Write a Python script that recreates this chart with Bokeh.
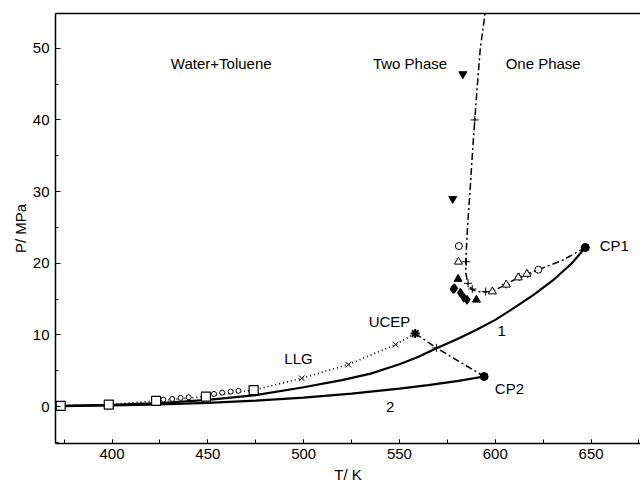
from bokeh.plotting import figure
from bokeh.models import SingleIntervalTicker, FixedTicker, LinearAxis, Range1d
from bokeh.core.properties import value
from bokeh.embed import file_html
from bokeh.resources import INLINE

FONT = "Liberation Sans"

# ---- data ----
water_T = [373.2, 400, 425, 450, 475, 500, 520, 535, 550, 560, 569, 580, 590, 600,
           610, 620, 630, 640, 647.0]
water_P = [0.10, 0.25, 0.50, 0.95, 1.60, 2.70, 3.70, 4.60, 5.90, 6.95, 8.10, 9.40, 10.7, 12.1,
           13.8, 15.6, 17.6, 20.0, 22.2]

tol_T = [373.2, 400, 425, 450, 475, 500, 525, 550, 565, 580, 594.2]
tol_P = [0.07, 0.16, 0.30, 0.52, 0.82, 1.25, 1.80, 2.50, 3.00, 3.55, 4.20]

llg_T = [373.2, 398.3, 423.0, 449.0, 473.9, 499.0, 523.3, 548.0, 558.2]
llg_P = [0.10, 0.28, 0.80, 1.40, 2.30, 3.95, 5.86, 8.65, 10.2]

sq_T = [373.2, 398.3, 423.0, 449.0, 473.9]
sq_P = [0.10, 0.28, 0.80, 1.40, 2.30]

x_T = [499.0, 523.3, 548.0]
x_P = [3.95, 5.86, 8.65]

small_T = [426.8, 431.4, 435.8, 440.0, 453.2, 457.5, 461.9, 466.0]
small_P = [0.98, 1.07, 1.21, 1.30, 1.77, 1.95, 2.09, 2.20]

ucep_T = [558.2]
ucep_P = [10.2]

tp_T = [558.2, 569.3, 594.2]
tp_P = [10.2, 8.2, 4.2]

cp_T = [647.0, 594.2]
cp_P = [22.2, 4.2]

crit_T = [647.0, 635.0, 622.5, 612.5, 605.5, 598.5, 593.0, 588.0, 585.6, 584.7,
          584.6, 585.5, 586.8, 588.0, 589.3, 590.7, 592.2, 595.0]
crit_P = [22.2, 20.4, 19.1, 18.1, 17.0, 16.1, 15.95, 16.3, 17.2, 18.6,
          20.2, 25.0, 30.0, 35.0, 40.0, 45.0, 50.0, 55.5]

plus_T = [589.3, 584.8, 585.8, 588.0, 595.0, 605.5, 612.5, 617.0, 569.3]
plus_P = [40.0, 20.2, 17.2, 16.4, 16.05, 17.05, 18.1, 18.5, 8.2]

otri_T = [580.8, 598.5, 605.8, 612.0, 616.5]
otri_P = [20.2, 16.05, 17.0, 18.0, 18.5]

ocirc_T = [581.0, 622.5]
ocirc_P = [22.4, 19.1]

ftri_T = [580.6, 590.2]
ftri_P = [17.8, 14.9]

fdia_T = [578.0, 578.8, 581.8, 583.6, 585.3]
fdia_P = [16.4, 16.5, 15.9, 15.2, 14.9]

fdown_T = [583.1, 577.8]
fdown_P = [46.4, 29.0]

lbl_text = ["Water+Toluene", "Two Phase", "One Phase", "UCEP", "LLG", "1", "2"]
lbl_T = [457.0, 555.5, 625.0, 544.8, 497.3, 603.4, 545.2]
lbl_P = [47.9, 47.9, 47.9, 11.9, 6.7, 10.5, 0.0]

lbl2_text = ["CP1", "CP2"]
lbl2_T = [654.5, 599.8]
lbl2_P = [22.5, 2.5]

# ---- figure ----
p = figure(width=640, height=485, output_backend="svg", toolbar_location=None,
           x_range=Range1d(370.5, 675.8), y_range=Range1d(-5.15, 54.85),
           min_border_left=55, min_border_right=0, min_border_top=13, min_border_bottom=42,
           x_axis_label="T/ K", y_axis_label="P/ MPa")
p.grid.visible = False
p.outline_line_color = None
p.background_fill_color = "white"
p.border_fill_color = "white"

p.xaxis.ticker = SingleIntervalTicker(interval=50, num_minor_ticks=2)
p.yaxis.ticker = SingleIntervalTicker(interval=10, num_minor_ticks=2)
for ax in (p.xaxis[0], p.yaxis[0]):
    ax.axis_line_width = 1.5
    ax.axis_line_color = "black"
    ax.major_tick_in = 5
    ax.major_tick_out = 0
    ax.minor_tick_in = 3
    ax.minor_tick_out = 0
    ax.major_tick_line_color = "black"
    ax.minor_tick_line_color = "black"
    ax.major_label_text_font = FONT
    ax.major_label_text_font_size = "15px"
    ax.major_label_text_color = "black"
    ax.axis_label_text_font = FONT
    ax.axis_label_text_font_size = "15px"
    ax.axis_label_text_font_style = "normal"
    ax.axis_label_text_color = "black"
p.xaxis.minor_tick_in = 4
p.xaxis.major_tick_in = 4
p.xaxis.major_label_standoff = 5
p.xaxis.axis_label_standoff = 4
p.yaxis.major_label_standoff = 6
p.yaxis.axis_label_standoff = 1

top = LinearAxis(ticker=FixedTicker(ticks=[]), major_tick_in=0, major_tick_out=0,
                 minor_tick_in=0, minor_tick_out=0,
                 axis_line_width=1.5, axis_line_color="black")
p.add_layout(top, "above")

# curves
p.line(water_T, water_P, line_color="black", line_width=2.2)
p.line(tol_T, tol_P, line_color="black", line_width=2.2)
p.line(llg_T, llg_P, line_color="black", line_width=1.7, line_dash="1 3")
p.line(tp_T, tp_P, line_color="black", line_width=1.5, line_dash="7 3 2 3")
p.line(crit_T, crit_P, line_color="black", line_width=1.5, line_dash="7 3 2 3")

# markers
p.scatter(sq_T, sq_P, marker="square", size=9, fill_color="white", line_color="black", line_width=1.2)
p.scatter(small_T, small_P, marker="circle", size=5, fill_color="white", line_color="black", line_width=1)
p.scatter(x_T, x_P, marker="x", size=8, line_color="black", line_width=1)
p.scatter(plus_T, plus_P, marker="cross", size=8, line_color="black", line_width=1)
p.scatter(otri_T, otri_P, marker="triangle", size=8, fill_color="white", line_color="black", line_width=1)
p.scatter(ocirc_T, ocirc_P, marker="circle", size=7, fill_color="white", line_color="black", line_width=1)
p.scatter(ftri_T, ftri_P, marker="triangle", size=8, fill_color="black", line_color="black")
p.scatter(fdia_T, fdia_P, marker="diamond", size=9, fill_color="black", line_color="black")
p.scatter(fdown_T, fdown_P, marker="inverted_triangle", size=8, fill_color="black", line_color="black")
p.scatter(ucep_T, ucep_P, marker="asterisk", size=9, line_color="black", line_width=2)
p.scatter(ucep_T, ucep_P, marker="circle", size=4, fill_color="black", line_color="black")
p.scatter(cp_T, cp_P, marker="circle", size=8, fill_color="black", line_color="black")

# labels
p.text(x=lbl_T, y=lbl_P, text=lbl_text, text_font=value(FONT), text_font_size="15px",
       text_align="center", text_baseline="middle", text_color="black")
p.text(x=lbl2_T, y=lbl2_P, text=lbl2_text, text_font=value(FONT), text_font_size="15px",
       text_align="left", text_baseline="middle", text_color="black")

open("out.html", "w").write(file_html(p, INLINE))
